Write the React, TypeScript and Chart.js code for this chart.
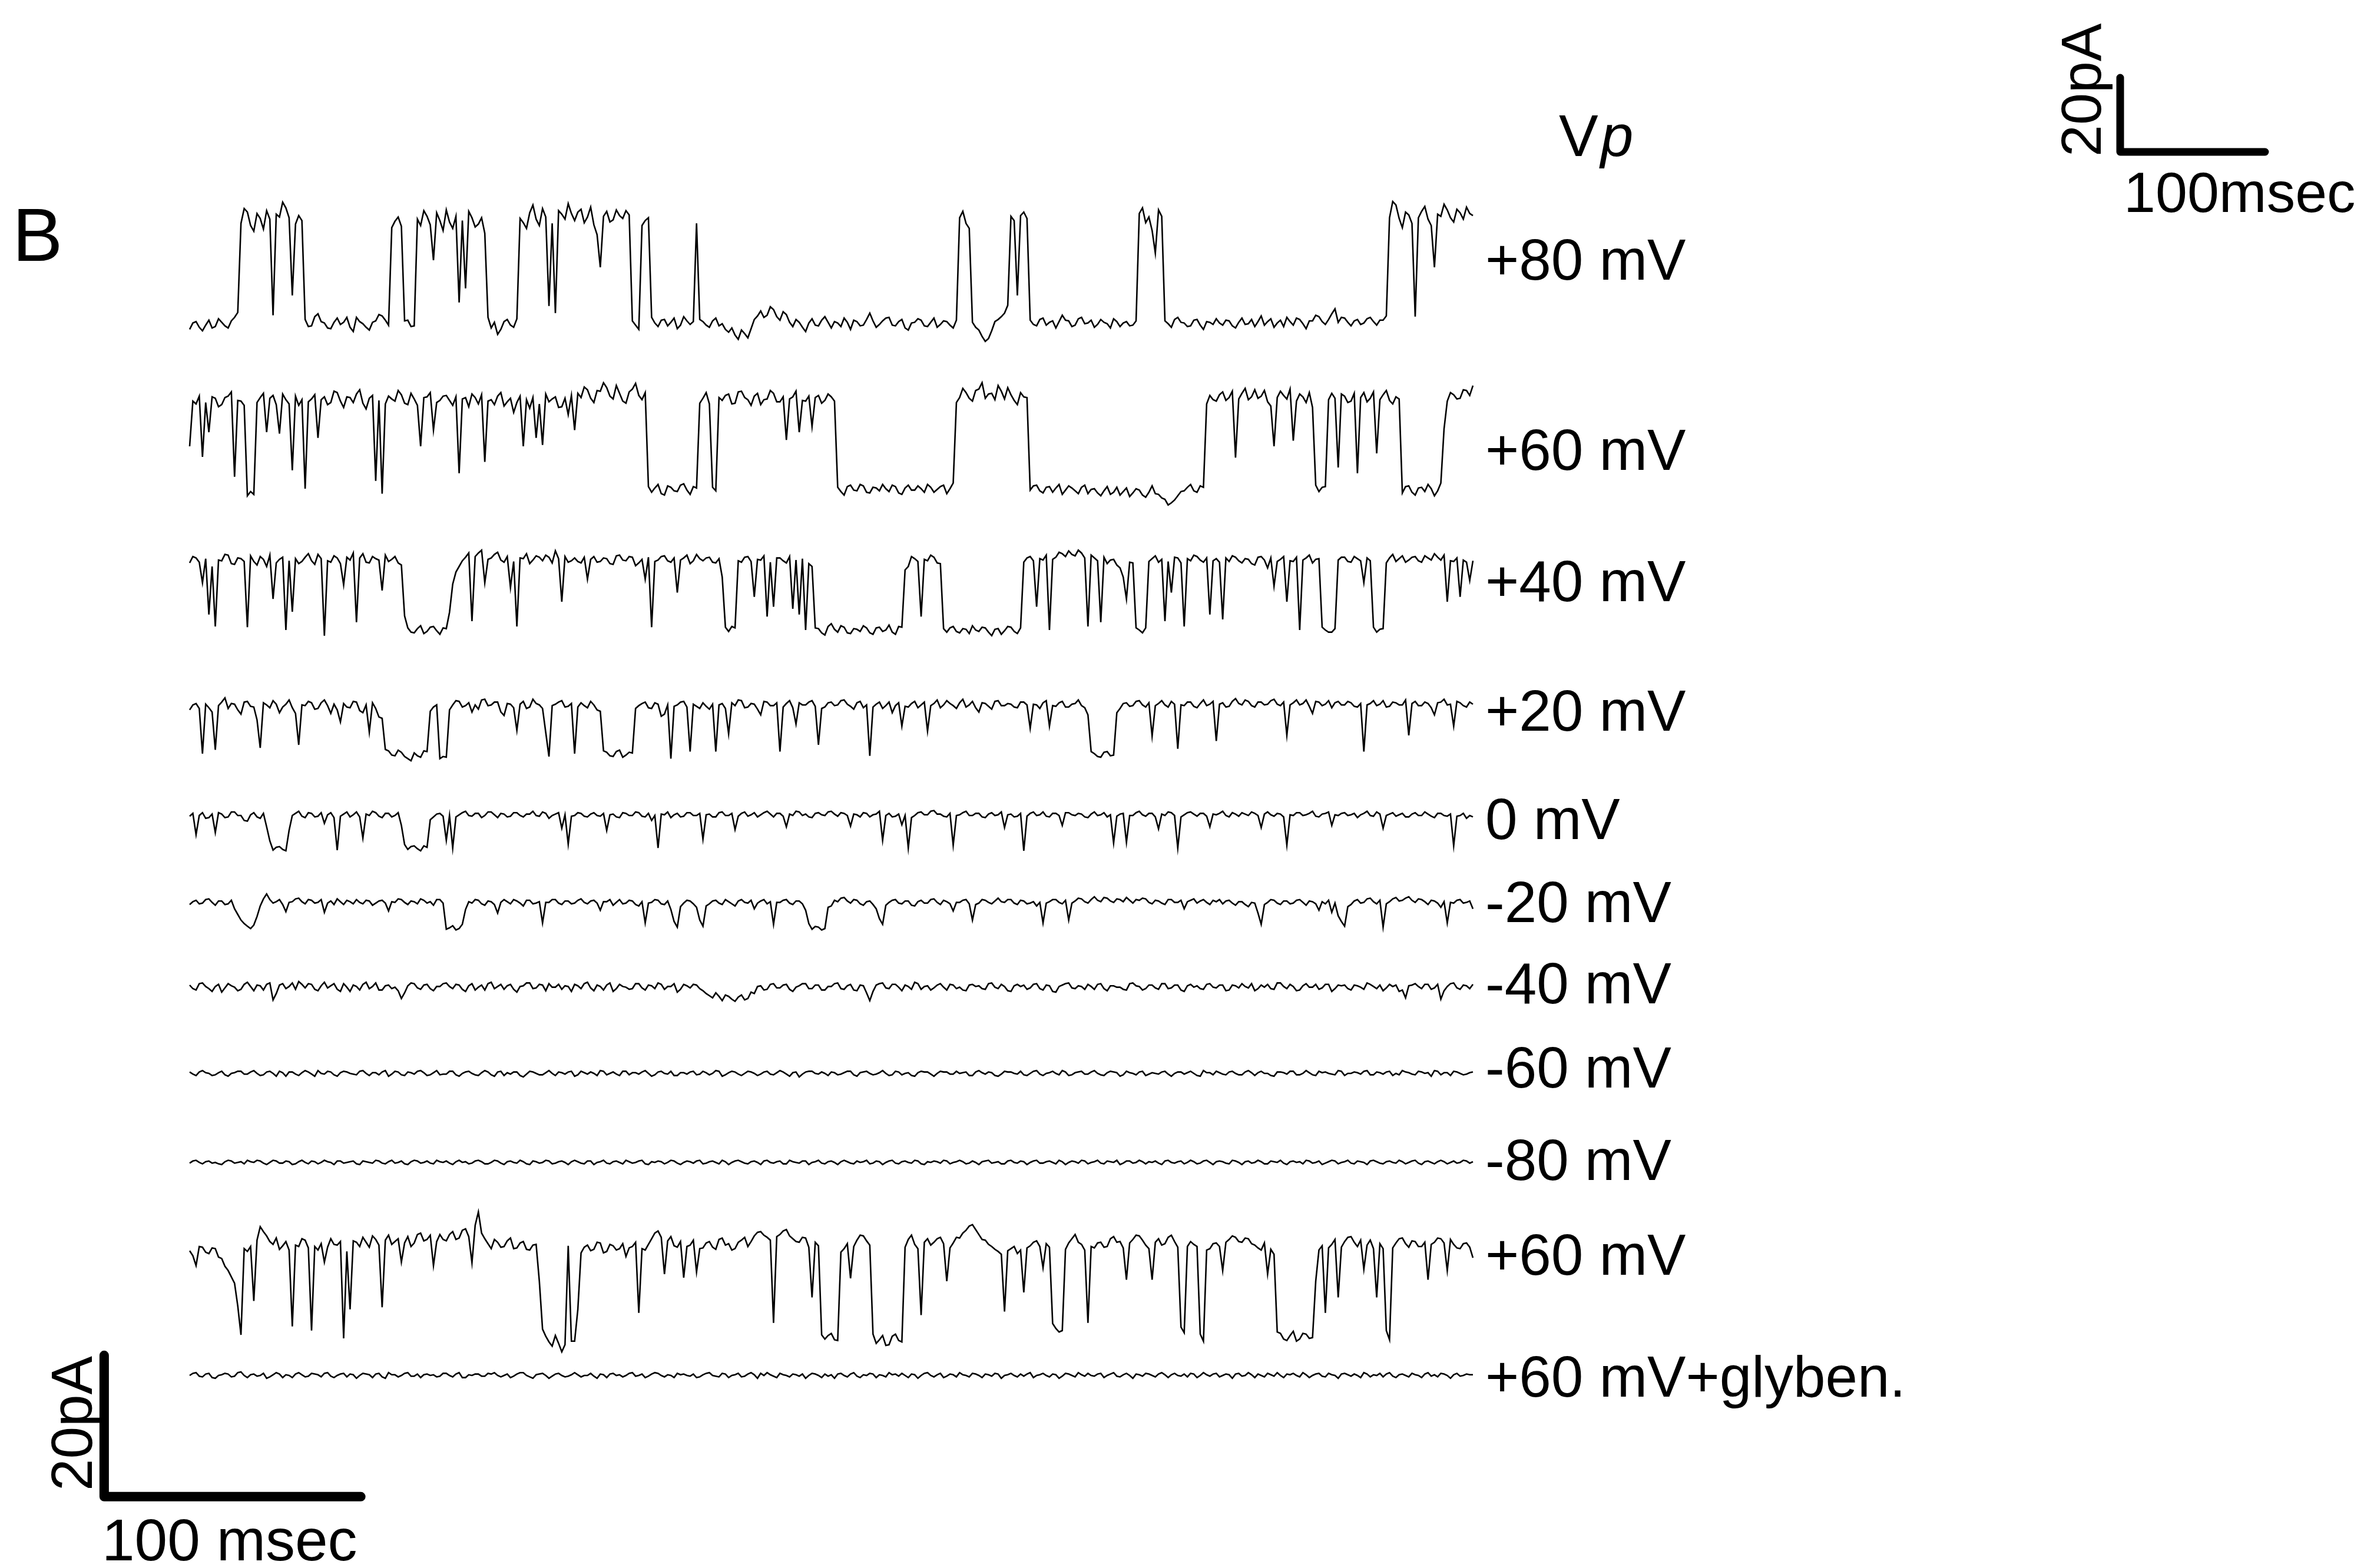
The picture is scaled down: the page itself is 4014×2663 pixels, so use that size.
import React, { useEffect, useRef } from "react";
import { Chart, registerables } from "chart.js";

Chart.register(...registerables);

const sampleIntervalMs = 1.25;

const traceLabels = [
  "+80 mV", "+60 mV", "+40 mV", "+20 mV", "0 mV", "-20 mV",
  "-40 mV", "-60 mV", "-80 mV", "+60 mV", "+60 mV+glyben.",
];

// closed-level position of each trace on the (stacked) current axis, pA
const traceBaselines = [176.1, 152.75, 132.75, 115.25, 101.9, 90.7, 82.2, 70.0, 57.4, 32.6, 27.25];

// current deflection (pA)
const trace80 = [
  -0.8, 0.1, 0.3, -0.5, -1.0, -0.2, 0.5, -0.6, -0.4, 0.7, 0.2, -0.3, -0.6, 0.4, 0.9, 1.6, 14.2, 16.3, 15.8, 13.9, 13.1, 15.6, 14.9, 13.4, 16.0, 14.8, 1.2, 15.5, 15.1, 17.2, 16.4, 15.0, 4.0, 14.1, 15.3, 14.6, 0.6, -0.4, -0.3, 1.0,
  1.4, 0.3, 0.1, -0.6, -0.7, 0.2, 0.8, -0.1, 0.2, 0.9, -0.5, -1.1, 0.9, 0.3, 0.0, -0.5, -0.9, 0.2, 0.4, 1.3, 1.1, 0.5, -0.2, 13.6, 14.5, 15.1, 13.8, 0.4, 0.5, -0.4, -0.3, 14.8, 13.9, 16.0, 15.2, 14.0, 9.0, 15.7, 14.6, 13.2,
  16.1, 14.4, 13.5, 15.2, 3.0, 14.6, 5.0, 15.9, 15.0, 13.7, 14.1, 15.0, 12.8, 0.9, -0.6, 0.2, -1.5, -0.8, 0.3, 0.6, -0.2, -0.5, 0.7, 14.9, 14.3, 13.5, 15.7, 16.8, 14.8, 13.9, 16.3, 15.1, 2.5, 14.2, 1.5, 16.0, 15.5, 14.8, 17.0, 15.6,
  14.6, 15.8, 16.2, 14.3, 15.1, 16.5, 14.0, 12.6, 8.0, 15.2, 15.9, 14.4, 14.7, 16.1, 15.3, 14.9, 16.0, 15.4, 0.4, -0.2, -0.8, 13.9, 14.6, 15.0, 0.9, 0.1, -0.4, 0.5, 0.6, -0.3, 0.2, 0.8, -0.7, -0.2, 1.0, 0.4, -0.1, 0.3, 14.2, 0.6,
  0.3, -0.2, -0.5, 0.4, 0.8, -0.3, 0.0, -0.8, -1.2, -0.6, -1.6, -2.2, -0.9, -1.4, -2.0, -0.7, 0.6, 1.1, 1.8, 0.9, 1.2, 2.4, 2.0, 1.0, 0.5, 1.7, 1.3, 0.2, -0.4, 0.6, 0.2, -0.5, -1.1, 0.1, 0.7, -0.2, -0.3, 0.5, 1.0, 0.2,
  -0.6, 0.3, 0.1, -0.4, 0.8, 0.2, -0.8, 0.5, 0.3, -0.3, -0.2, 0.6, 1.5, 0.4, -0.5, -0.1, 0.4, 0.8, 0.9, -0.2, -0.3, 0.3, 0.6, -0.6, -0.9, 0.1, 0.2, 0.7, 0.5, -0.3, -0.4, 0.2, 0.8, -0.5, -0.1, 0.4, 0.3, -0.2, -0.6, 0.5,
  15.0, 15.9, 14.2, 13.5, 0.2, -0.5, -0.9, -1.8, -2.5, -2.1, -1.0, 0.3, 0.6, 1.0, 1.5, 2.6, 15.2, 14.6, 4.0, 15.3, 15.8, 14.9, 0.5, -0.1, -0.3, 0.6, 0.8, -0.2, 0.2, 0.4, -0.6, 0.3, 1.2, 0.5, 0.4, -0.4, -0.2, 0.7, 0.9, 0.0,
  0.1, 0.5, -0.5, -0.1, 0.6, 0.2, 0.0, -0.6, 0.7, 0.3, -0.4, 0.1, 0.3, -0.3, -0.2, 0.4, 15.6, 16.4, 14.3, 15.1, 13.2, 10.0, 16.1, 15.2, 0.4, 0.0, -0.5, 0.6, 0.9, 0.2, 0.1, -0.4, -0.3, 0.5, 0.6, -0.2, -0.8, 0.3, 0.2, -0.1,
  0.7, 0.1, -0.2, 0.5, 0.4, -0.3, -0.6, 0.2, 0.8, -0.1, 0.0, 0.6, -0.4, 0.3, 1.1, -0.2, 0.3, 0.7, -0.5, 0.1, 0.5, -0.4, 0.9, 0.3, -0.2, 0.8, 0.6, 0.0, -0.7, 0.4, 0.4, 1.2, 1.0, 0.3, -0.1, 0.6, 1.4, 2.1, 0.2, 0.9,
  0.8, 0.2, -0.3, 0.4, 0.6, -0.1, 0.1, 0.7, 0.9, 0.3, -0.2, 0.5, 0.5, 1.1, 15.0, 17.3, 16.8, 14.9, 13.6, 15.8, 15.4, 14.2, 1.0, 15.0, 15.9, 16.6, 14.8, 13.9, 8.0, 15.5, 15.2, 16.9, 16.1, 15.0, 14.4, 16.2, 15.7, 14.8, 16.5, 15.6,
  15.3,
];

const trace60 = [
  6.0, 12.4, 12.0, 13.1, 4.5, 12.2, 8.0, 13.0, 12.8, 11.6, 11.9, 12.9, 13.1, 13.7, 1.7, 12.5, 12.4, 11.8, -1.0, -0.4, -0.8, 12.2, 12.9, 13.5, 8.0, 12.8, 13.2, 11.9, 7.8, 13.4, 12.6, 12.0, 2.6, 13.1, 11.8, 12.6, 0.0, 12.3, 12.7, 13.3,
  7.2, 12.6, 13.0, 11.9, 12.2, 13.8, 13.6, 12.4, 11.5, 13.0, 12.9, 12.2, 13.4, 14.0, 12.1, 11.3, 12.8, 13.2, 1.1, 12.5, -0.7, 12.0, 13.1, 12.7, 12.4, 13.9, 13.3, 12.1, 11.9, 13.5, 12.7, 11.8, 6.0, 12.9, 13.0, 13.6, 8.3, 12.2, 12.5, 13.1,
  13.2, 12.5, 11.8, 13.0, 2.2, 12.7, 12.9, 11.6, 13.4, 12.9, 12.0, 13.3, 3.8, 12.4, 12.6, 11.9, 13.1, 13.6, 11.7, 12.3, 12.8, 10.8, 12.2, 13.1, 6.0, 12.6, 11.4, 12.9, 7.2, 12.0, 6.2, 13.4, 12.3, 12.7, 13.0, 11.5, 11.6, 12.8, 10.5, 13.2,
  8.3, 13.5, 12.9, 14.4, 14.0, 12.8, 12.2, 13.9, 13.8, 15.0, 14.3, 13.1, 12.7, 14.6, 13.5, 12.4, 12.1, 13.7, 14.1, 14.9, 13.2, 12.6, 13.6, 0.3, -0.5, 0.1, 0.6, -0.7, -0.9, 0.4, 0.2, -0.3, -0.4, 0.5, 0.7, -0.2, -0.8, 0.3, 0.1, 12.1,
  12.8, 13.6, 12.0, 0.2, -0.3, 12.9, 12.5, 13.2, 13.4, 12.0, 12.1, 13.7, 13.8, 12.9, 12.6, 11.8, 13.1, 13.5, 11.9, 12.6, 12.7, 13.9, 13.5, 12.3, 12.3, 13.0, 6.9, 12.7, 13.0, 13.8, 8.0, 12.5, 12.4, 13.1, 8.8, 12.9, 13.2, 12.1, 12.5, 13.4,
  13.0, 12.4, 0.2, -0.4, -0.9, 0.3, 0.5, -0.2, -0.3, 0.6, 0.4, -0.5, -0.6, 0.2, 0.1, -0.3, 0.6, 0.0, -0.4, 0.5, 0.3, -0.6, -0.8, 0.1, 0.5, -0.2, -0.2, 0.4, 0.0, -0.5, 0.6, 0.2, -0.5, -0.1, 0.3, 0.5, -0.7, 0.0, 0.8, 12.2,
  12.9, 14.2, 13.6, 12.8, 12.4, 13.9, 14.1, 15.0, 12.8, 13.4, 13.5, 12.6, 14.6, 13.8, 12.7, 14.3, 13.3, 12.5, 11.9, 13.6, 13.0, 12.9, -0.2, 0.4, 0.5, -0.3, -0.6, 0.2, 0.3, -0.5, 0.1, 0.6, -0.8, -0.2, 0.4, 0.1, -0.3, -0.7, 0.2, 0.5,
  -0.7, -0.1, 0.0, -0.6, -1.0, -0.3, 0.3, -0.8, -0.5, 0.2, -0.9, -0.4, 0.1, -1.1, -0.6, 0.0, -0.2, -0.9, -1.2, -0.5, 0.4, -0.7, -0.8, -1.3, -1.5, -2.3, -2.0, -1.6, -1.0, -0.4, -0.3, 0.2, 0.6, -0.3, -0.5, 0.4, 0.2, 12.0, 13.2, 12.6,
  12.4, 13.3, 13.7, 12.5, 12.9, 13.8, 4.4, 12.7, 13.5, 14.2, 12.6, 13.0, 14.0, 12.8, 13.1, 13.9, 12.3, 11.7, 6.0, 12.9, 13.8, 13.2, 12.7, 14.1, 6.8, 12.4, 13.4, 13.0, 12.2, 13.6, 11.5, 0.5, -0.4, 0.2, 0.3, 12.6, 13.5, 12.8, 3.0, 13.4,
  13.1, 12.2, 12.4, 13.5, 2.2, 12.9, 13.6, 12.3, 12.8, 13.7, 5.0, 12.6, 13.3, 13.9, 12.5, 12.0, 13.0, 12.7, -0.6, 0.3, 0.4, -0.5, -0.9, 0.1, 0.2, -0.4, 0.6, 0.0, -1.0, -0.3, 0.8, 8.5, 12.4, 13.6, 13.3, 12.7, 12.8, 14.0, 13.9, 13.2,
  14.6,
];

const trace40 = [
  9.5, 10.4, 10.2, 9.6, 6.7, 10.1, 2.2, 9.0, 0.5, 9.9, 9.8, 10.7, 10.6, 9.4, 9.3, 10.2, 10.1, 9.7, 0.4, 10.5, 9.7, 9.2, 10.4, 10.0, 9.0, 10.6, 4.4, 9.5, 10.0, 10.3, 0.0, 9.8, 2.6, 10.1, 9.4, 9.7, 10.3, 10.8, 9.8, 9.3,
  10.7, 10.1, -0.8, 9.8, 9.6, 10.5, 10.2, 9.4, 6.4, 10.3, 9.9, 10.9, 1.1, 10.2, 10.8, 9.6, 9.5, 10.4, 10.1, 9.9, 5.6, 10.6, 9.7, 10.0, 10.4, 9.5, 9.2, 2.0, 0.3, -0.3, -0.4, 0.2, 0.6, -0.5, -0.2, 0.4, 0.5, -0.1, -0.6, 0.3,
  0.2, 2.5, 6.5, 8.2, 9.0, 9.8, 10.3, 10.9, 1.25, 10.4, 10.9, 11.3, 6.7, 10.0, 10.2, 10.7, 11.0, 9.9, 9.6, 10.4, 6.0, 9.7, 0.5, 10.2, 10.1, 10.8, 9.4, 9.9, 10.5, 10.3, 9.8, 10.6, 10.3, 9.5, 11.2, 10.1, 4.0, 10.4, 9.6, 9.8,
  10.2, 9.7, 9.5, 10.3, 7.2, 10.0, 10.4, 9.6, 9.7, 10.2, 10.1, 9.4, 9.3, 10.5, 10.6, 9.9, 9.8, 10.4, 10.3, 9.1, 9.5, 10.0, 7.2, 10.3, 0.4, 9.7, 9.9, 10.4, 10.5, 9.8, 9.6, 10.2, 5.3, 9.9, 10.2, 10.6, 9.4, 9.8, 10.7, 10.1,
  9.8, 10.2, 10.3, 9.6, 9.5, 10.1, 7.5, 0.4, -0.2, 0.5, 0.3, 9.8, 9.6, 10.3, 10.4, 9.7, 4.7, 10.0, 9.9, 10.5, 1.9, 9.6, 3.3, 10.2, 10.2, 9.8, 9.5, 10.4, 3.0, 9.9, 2.2, 10.1, 0.0, 9.4, 9.0, 0.3, 0.2, -0.4, -0.7, 0.5,
  0.9, 0.1, -0.3, 0.6, 0.4, -0.4, -0.5, 0.2, 0.1, -0.2, 0.6, 0.3, -0.4, -0.6, 0.3, 0.4, -0.2, 0.0, 0.7, -0.3, -0.6, 0.5, 0.4, 8.5, 9.0, 10.4, 10.1, 9.7, 1.9, 10.0, 9.8, 10.6, 10.3, 9.5, 9.4, 0.2, -0.3, 0.3, 0.5, -0.2,
  -0.4, 0.2, 0.1, -0.5, 0.6, 0.0, -0.2, 0.4, 0.3, -0.3, -0.8, 0.1, 0.2, -0.6, -0.1, 0.5, 0.4, -0.2, -0.5, 0.3, 9.6, 10.2, 10.4, 9.8, 3.3, 10.1, 9.9, 10.6, 0.0, 10.0, 10.3, 11.0, 10.8, 10.4, 11.2, 10.7, 10.5, 11.3, 10.9, 10.2,
  0.5, 10.6, 10.2, 9.8, 1.1, 10.3, 9.4, 9.9, 10.0, 9.2, 8.8, 7.5, 4.4, 9.6, 9.5, 0.3, 0.0, -0.4, 0.3, 9.7, 10.1, 10.5, 9.6, 10.0, 1.25, 9.7, 5.3, 10.3, 10.2, 9.5, 0.5, 10.1, 9.8, 10.6, 10.4, 9.9, 9.6, 10.2, 2.2, 9.8,
  10.1, 9.6, 1.5, 10.2, 9.7, 10.5, 10.3, 9.8, 9.5, 10.1, 10.0, 9.4, 9.2, 10.3, 10.4, 9.9, 8.8, 10.2, 6.2, 9.7, 10.0, 10.4, 4.0, 9.8, 9.7, 10.3, 0.0, 9.9, 10.2, 10.6, 9.5, 10.0, 10.1, 0.4, 0.0, -0.3, -0.3, 0.2, 9.9, 10.3,
  10.3, 9.7, 9.6, 10.4, 10.1, 9.8, 6.7, 10.2, 9.8, 0.4, -0.3, 0.1, 0.2, 9.5, 10.2, 10.7, 9.7, 10.1, 10.5, 9.6, 9.9, 10.3, 10.4, 9.8, 9.6, 10.5, 10.2, 9.9, 10.8, 10.3, 9.9, 10.6, 4.0, 9.8, 9.7, 10.2, 4.7, 9.9, 9.6, 7.0,
  9.8,
];

const trace20 = [
  6.2, 6.9, 7.1, 6.4, 0.0, 7.0, 6.5, 5.9, 0.55, 6.8, 7.3, 7.9, 6.4, 7.1, 7.0, 6.2, 5.6, 7.3, 7.4, 6.7, 6.6, 4.8, 0.83, 7.2, 6.9, 6.5, 7.5, 7.0, 5.8, 6.6, 7.0, 7.6, 6.5, 5.7, 1.25, 6.9, 6.8, 7.4, 7.2, 6.3,
  6.4, 7.2, 7.6, 6.8, 5.7, 7.0, 6.2, 4.5, 7.1, 6.6, 6.5, 7.4, 7.3, 6.1, 5.8, 6.9, 3.05, 7.2, 6.4, 5.2, 5.0, 0.6, 0.4, -0.2, -0.3, 0.5, 0.2, -0.4, -0.7, -1.0, 0.1, -0.3, -0.5, 0.4, 0.3, 6.0, 6.6, 6.9, -0.7, -0.4,
  -0.5, 6.2, 6.9, 7.5, 7.4, 6.6, 6.8, 7.2, 5.9, 6.9, 6.3, 7.6, 7.7, 6.8, 6.9, 7.3, 7.3, 5.9, 5.4, 7.1, 7.0, 6.5, 3.3, 7.0, 7.4, 6.4, 6.6, 7.7, 7.1, 6.9, 6.4, 3.0, -0.4, 6.8, 7.0, 7.3, 7.5, 6.6, 6.7, 7.1,
  0.0, 6.6, 7.2, 6.8, 6.5, 7.4, 6.9, 6.2, 6.0, 0.4, 0.2, -0.3, -0.4, 0.3, 0.5, -0.5, -0.2, 0.2, 0.1, 6.4, 6.8, 7.1, 7.3, 6.5, 6.4, 7.2, 7.0, 5.3, 5.6, 6.9, -0.7, 6.7, 6.9, 7.3, 7.4, 6.6, 0.3, 7.0, 6.7, 6.4,
  7.2, 6.7, 6.3, 7.0, 0.3, 6.9, 7.1, 6.4, 2.8, 7.2, 6.8, 7.6, 7.5, 6.5, 6.6, 7.1, 7.0, 6.3, 5.5, 7.4, 7.3, 6.8, 6.8, 7.2, 0.3, 6.6, 7.1, 7.5, 6.5, 4.2, 7.2, 6.9, 6.9, 7.3, 7.5, 6.7, 1.25, 6.4, 6.6, 7.2,
  7.3, 6.8, 6.9, 7.5, 7.6, 7.0, 6.7, 6.3, 7.2, 7.4, 6.5, 6.9, -0.3, 6.6, 7.0, 7.3, 6.4, 6.8, 7.3, 5.8, 6.8, 7.2, 3.9, 6.7, 6.6, 7.1, 7.4, 6.5, 6.9, 7.3, 3.2, 6.8, 7.1, 7.6, 6.5, 6.9, 7.5, 7.1, 6.8, 6.4,
  7.2, 7.7, 6.6, 6.9, 7.4, 6.5, 5.9, 7.2, 7.1, 6.7, 6.3, 7.4, 7.5, 6.8, 6.8, 7.1, 7.0, 6.6, 6.5, 7.3, 7.3, 6.9, 3.6, 7.0, 6.9, 6.4, 7.2, 7.5, 3.9, 6.8, 6.7, 7.2, 7.4, 6.6, 6.6, 7.0, 7.1, 7.6, 6.8, 6.5,
  5.5, 0.3, 0.0, -0.4, -0.5, 0.2, 0.3, -0.3, -0.2, 5.8, 6.4, 7.1, 7.2, 6.7, 6.8, 7.4, 7.5, 6.9, 6.6, 7.2, 2.5, 6.8, 7.1, 7.5, 6.9, 6.6, 7.4, 7.0, 0.7, 6.9, 6.8, 7.3, 7.3, 6.7, 6.5, 7.1, 7.6, 6.8, 7.0, 7.4,
  1.8, 7.0, 7.2, 6.6, 6.7, 7.4, 7.8, 7.1, 6.9, 7.6, 7.4, 6.8, 6.6, 7.3, 7.3, 6.9, 7.0, 7.5, 7.7, 7.0, 6.8, 7.3, 2.6, 6.9, 7.2, 7.6, 6.9, 7.1, 7.6, 6.7, 5.7, 7.4, 7.3, 6.8, 7.0, 7.5, 6.5, 7.2, 7.4, 6.9,
  6.9, 7.4, 7.2, 6.7, 6.6, 7.1, 0.3, 6.9, 7.1, 7.5, 6.8, 7.0, 7.5, 6.6, 6.7, 7.3, 7.2, 6.9, 6.9, 7.6, 2.6, 7.1, 7.4, 6.8, 6.8, 7.3, 7.1, 6.5, 5.5, 7.2, 7.3, 7.7, 6.9, 7.0, 3.9, 7.4, 7.2, 6.8, 6.6, 7.3,
  7.0,
];

const trace0 = [
  4.5, 4.9, 1.9, 4.6, 5.0, 4.2, 4.3, 4.8, 2.2, 5.0, 4.8, 4.3, 4.4, 5.1, 5.1, 4.6, 4.6, 3.9, 3.8, 4.7, 5.0, 4.4, 4.2, 4.9, 3.0, 1.0, -0.3, 0.1, 0.2, -0.2, -0.4, 2.5, 4.6, 4.9, 5.2, 4.5, 4.3, 5.0, 4.9, 4.4,
  4.5, 5.0, 3.5, 4.7, 5.0, 4.3, -0.3, 4.5, 4.8, 5.1, 4.4, 4.7, 5.1, 4.4, 1.4, 4.8, 4.6, 5.2, 5.0, 4.5, 4.3, 4.9, 4.9, 4.4, 4.6, 5.0, 3.2, 0.5, -0.2, 0.2, 0.3, -0.1, -0.4, 0.3, 0.1, 4.0, 4.4, 4.8, 4.9, 4.5,
  1.1, 4.6, 0.0, 4.4, 4.7, 5.0, 5.2, 4.6, 4.5, 4.9, 4.9, 4.3, 4.6, 5.1, 5.1, 4.7, 4.3, 4.9, 4.8, 4.4, 4.5, 5.0, 5.0, 4.6, 4.4, 4.8, 4.8, 5.2, 4.6, 4.5, 5.1, 4.9, 4.2, 4.6, 4.8, 5.0, 2.8, 4.7, 0.55, 4.5,
  4.6, 5.0, 4.9, 4.5, 4.4, 4.8, 5.0, 4.6, 4.5, 4.9, 2.5, 4.7, 4.8, 4.4, 4.3, 5.0, 4.9, 4.6, 4.6, 5.1, 5.0, 4.5, 4.4, 4.9, 3.9, 4.6, 0.0, 4.8, 4.7, 5.1, 4.3, 4.7, 4.9, 4.4, 4.5, 5.0, 5.0, 4.6, 4.6, 4.9,
  1.25, 4.7, 4.8, 4.4, 4.4, 5.0, 5.1, 4.6, 4.6, 4.9, 2.6, 4.5, 4.9, 5.1, 4.5, 4.7, 5.0, 4.4, 4.7, 5.0, 5.2, 4.8, 4.4, 4.9, 4.9, 4.5, 3.0, 4.8, 4.6, 5.2, 5.1, 4.6, 4.8, 4.4, 4.3, 4.9, 5.0, 4.7, 4.6, 5.1,
  5.2, 4.8, 4.5, 5.0, 4.9, 4.6, 3.1, 4.8, 4.7, 4.4, 5.0, 4.9, 4.4, 4.7, 4.8, 5.2, 1.1, 4.6, 4.9, 4.4, 4.5, 4.8, 3.3, 4.6, 0.0, 4.3, 4.6, 5.0, 5.1, 4.7, 4.7, 5.2, 5.3, 4.8, 4.8, 4.5, 4.4, 4.9, 0.4, 4.6,
  4.7, 5.0, 5.2, 4.6, 4.6, 4.9, 4.9, 4.4, 4.3, 4.8, 5.0, 4.6, 4.7, 5.1, 2.9, 4.7, 4.8, 4.4, 4.5, 4.9, -0.4, 4.5, 4.9, 5.1, 4.6, 4.7, 5.1, 4.5, 4.4, 4.9, 4.9, 4.6, 3.2, 5.0, 5.0, 4.7, 4.6, 4.9, 4.8, 4.4,
  4.3, 4.8, 5.1, 4.6, 4.7, 5.0, 4.4, 4.7, 0.7, 4.5, 4.8, 4.9, 0.8, 4.6, 4.6, 5.0, 5.2, 4.7, 4.5, 4.9, 4.9, 4.4, 2.7, 4.8, 4.6, 5.1, 5.0, 4.6, 0.0, 4.4, 4.7, 5.0, 5.1, 4.8, 4.5, 4.9, 4.9, 4.5, 3.0, 4.8,
  4.7, 4.9, 5.2, 4.6, 4.4, 5.0, 4.8, 4.5, 5.0, 4.8, 4.6, 5.1, 4.9, 4.6, 2.9, 4.8, 5.1, 4.7, 4.5, 4.9, 4.8, 4.4, 0.4, 4.7, 4.6, 5.0, 5.0, 4.6, 4.7, 4.9, 5.2, 4.5, 4.4, 4.8, 4.9, 5.1, 3.2, 4.7, 4.6, 4.9,
  5.0, 4.6, 4.7, 4.9, 4.3, 4.7, 4.9, 5.2, 4.6, 4.5, 5.1, 4.8, 2.8, 4.6, 4.8, 5.0, 4.5, 4.7, 4.9, 4.4, 4.4, 4.8, 5.0, 4.6, 4.6, 5.1, 4.8, 4.5, 4.3, 4.9, 4.9, 4.6, 4.5, 4.8, 0.3, 4.5, 4.6, 4.9, 4.2, 4.6,
  4.4,
];

const traceNeg20 = [
  3.2, 3.6, 3.8, 3.3, 3.4, 3.9, 4.0, 3.5, 3.1, 3.7, 3.7, 3.2, 3.3, 3.8, 2.6, 1.8, 1.0, 0.5, 0.14, -0.2, 0.3, 1.5, 3.0, 4.0, 4.7, 3.9, 3.4, 3.6, 3.9, 3.2, 2.2, 3.5, 3.6, 4.0, 4.1, 3.6, 3.3, 3.9, 3.8, 3.4,
  3.5, 3.9, 2.1, 3.4, 3.7, 3.2, 4.0, 3.6, 3.2, 3.8, 3.6, 3.3, 3.9, 3.5, 3.3, 3.8, 3.7, 3.1, 3.4, 3.7, 3.8, 3.4, 2.3, 3.6, 3.5, 4.0, 3.9, 3.5, 3.2, 3.7, 3.6, 3.3, 4.0, 3.8, 3.4, 3.6, 3.1, 3.9, 3.9, 3.4,
  -0.3, -0.1, 0.2, -0.4, -0.2, 0.4, 2.5, 3.6, 3.4, 3.9, 3.8, 3.3, 3.1, 3.7, 3.6, 3.2, 2.0, 3.5, 3.9, 3.6, 3.3, 3.9, 3.7, 3.4, 3.0, 3.8, 3.8, 3.3, 3.4, 3.6, 0.6, 3.5, 3.5, 3.9, 3.9, 3.4, 3.2, 3.7, 3.7, 3.3,
  3.4, 3.8, 4.0, 3.5, 3.3, 3.7, 3.8, 3.4, 2.4, 3.6, 3.6, 3.9, 3.1, 3.5, 3.9, 3.3, 3.4, 3.8, 3.7, 3.2, 3.0, 3.6, 0.6, 3.4, 3.5, 3.9, 3.8, 3.3, 3.2, 3.7, 2.5, 0.8, 0.0, 2.9, 3.4, 3.8, 3.7, 3.3, 2.8, 1.0,
  0.14, 3.0, 3.3, 3.7, 3.8, 3.4, 3.2, 3.9, 3.6, 3.3, 3.0, 3.7, 3.9, 3.5, 3.4, 3.8, 2.6, 3.4, 3.7, 3.9, 3.3, 3.6, 0.4, 3.5, 3.5, 3.8, 3.9, 3.4, 3.2, 3.7, 3.7, 3.3, 2.4, 0.5, -0.3, 0.1, 0.0, -0.4, -0.2, 2.8,
  3.0, 3.8, 3.6, 4.1, 4.2, 3.7, 3.4, 3.9, 3.8, 3.3, 3.1, 3.6, 3.7, 3.2, 2.6, 1.2, 0.4, 3.1, 3.5, 3.8, 3.9, 3.4, 3.3, 3.7, 3.7, 3.1, 3.0, 3.6, 3.8, 3.4, 3.4, 3.9, 4.0, 3.5, 3.2, 3.8, 3.6, 3.3, 2.3, 3.5,
  3.5, 3.8, 3.9, 3.3, 1.0, 3.2, 3.4, 3.9, 3.8, 3.5, 3.3, 3.7, 4.1, 3.6, 3.5, 3.9, 3.9, 3.4, 3.2, 3.8, 3.7, 3.3, 3.4, 3.6, 3.0, 3.5, 0.6, 3.4, 3.6, 3.9, 3.9, 3.5, 3.3, 3.8, 1.0, 3.4, 3.7, 4.1, 4.0, 3.6,
  3.4, 3.9, 4.3, 3.8, 3.6, 4.2, 4.1, 3.7, 3.5, 4.0, 3.9, 3.6, 4.2, 3.8, 3.4, 3.9, 3.8, 4.1, 4.0, 3.5, 3.3, 3.8, 3.7, 3.4, 3.2, 3.9, 3.9, 3.5, 3.5, 3.8, 2.6, 3.6, 3.8, 4.0, 3.4, 3.7, 3.9, 3.5, 3.2, 3.8,
  3.6, 3.9, 3.3, 3.7, 3.8, 3.4, 3.1, 3.6, 3.6, 3.2, 2.9, 3.5, 3.4, 2.0, 0.4, 3.2, 3.5, 3.9, 3.8, 3.4, 3.2, 3.7, 3.7, 3.3, 3.4, 3.8, 3.9, 3.5, 3.1, 3.7, 3.6, 3.3, 2.4, 3.6, 3.3, 3.8, 2.1, 3.4, 1.6, 0.8,
  0.14, 2.9, 3.2, 3.7, 3.9, 3.4, 3.5, 4.0, 4.1, 3.6, 3.3, 3.8, 0.0, 3.3, 3.6, 4.0, 4.2, 3.7, 3.8, 4.1, 4.3, 3.8, 3.5, 4.0, 3.9, 3.6, 3.2, 3.8, 3.7, 3.4, 2.8, 3.6, 0.6, 3.5, 3.4, 3.8, 3.9, 3.4, 3.5, 3.7,
  2.6,
];

const traceNeg40 = [
  0.3, -0.2, -0.4, 0.5, 0.6, 0.1, -0.2, -0.6, 0.1, 0.4, -0.7, -0.1, 0.5, 0.2, 0.0, -0.5, -0.3, 0.4, 0.7, 0.1,
  -0.5, 0.3, 0.2, -0.4, 0.4, 0.6, -1.8, -0.9, 0.3, 0.5, -0.2, 0.1, 0.6, -0.3, 0.8, 0.4, -0.1, 0.5, 0.4, -0.3,
  -0.5, 0.2, 0.7, -0.1, 0.2, 0.5, -0.3, -0.6, 0.5, 0.0, -0.6, 0.3, 0.1, -0.4, 0.4, 0.7, -0.2, 0.1, 0.6, -0.4,
  -0.4, 0.2, 0.3, -0.2, 0.0, -0.5, -1.6, -0.8, 0.2, 0.6, 0.5, -0.1, -0.3, 0.3, 0.4, -0.2, -0.5, 0.1, 0.1, 0.5,
  0.6, 0.1, -0.2, 0.4, 0.3, -0.3, -0.6, 0.2, 0.5, -0.4, 0.0, 0.3, -0.4, 0.5, 0.7, -0.2, 0.1, 0.4, -0.3, 0.2,
  0.4, -0.3, -0.7, 0.1, 0.2, 0.6, 0.6, -0.2, -0.1, 0.4, 0.3, -0.5, 0.5, 0.0, 0.0, 0.4, -0.3, 0.2, 0.1, -0.6,
  0.4, 0.2, -0.2, 0.5, 0.7, -0.1, -0.5, 0.3, 0.1, -0.4, 0.3, 0.6, -0.6, -0.2, 0.4, 0.1, 0.0, -0.3, -0.2, 0.5,
  0.5, -0.1, -0.4, 0.3, 0.2, -0.2, 0.6, 0.4, -0.3, 0.1, 0.1, 0.5, -0.7, -0.3, 0.4, 0.2, -0.1, 0.4, 0.3, -0.2,
  -0.5, -0.9, -1.2, -1.5, -0.8, -1.3, -1.9, -1.1, -1.3, -1.7, -2.0, -1.4, -1.1, -1.8, -1.6, -0.7, -0.9, 0.1, 0.2, -0.4,
  -0.3, 0.4, 0.5, -0.1, -0.1, 0.3, 0.4, -0.3, -0.6, 0.0, 0.2, 0.5, 0.5, -0.2, -0.2, 0.3, 0.3, -0.4, -0.4, 0.1,
  0.1, 0.5, 0.6, -0.2, -0.3, 0.2, 0.4, -0.4, -0.5, 0.3, 0.2, -0.8, -1.9, -0.6, 0.3, 0.5, 0.6, -0.1, -0.2, 0.4,
  0.4, 0.0, -0.5, 0.3, 0.1, -0.3, 0.7, 0.5, -0.3, 0.1, 0.2, -0.4, -0.1, 0.3, 0.5, 0.0, -0.4, 0.4, 0.3, -0.2,
  0.0, -0.4, -0.5, 0.3, 0.4, 0.1, 0.2, -0.2, -0.3, 0.5, 0.6, 0.0, -0.2, 0.4, 0.1, -0.5, -0.6, 0.2, 0.4, 0.1,
  0.3, -0.3, -0.1, 0.4, 0.5, -0.2, -0.4, 0.3, 0.2, -0.6, -0.7, 0.1, 0.3, 0.5, 0.6, -0.1, -0.2, 0.2, 0.1, -0.3,
  0.4, 0.1, -0.3, 0.4, 0.5, -0.2, -0.5, 0.2, 0.2, 0.0, 0.0, -0.3, -0.4, 0.5, 0.6, 0.2, 0.1, -0.4, -0.2, 0.3,
  0.3, -0.1, -0.3, 0.5, 0.5, -0.2, -0.1, 0.3, 0.3, -0.4, -0.6, 0.2, 0.4, 0.0, 0.2, -0.2, -0.3, 0.4, 0.5, 0.0,
  -0.1, 0.3, 0.3, -0.5, -0.4, 0.3, 0.2, -0.1, 0.5, 0.1, -0.1, 0.5, -0.5, -0.2, 0.3, 0.0, 0.4, -0.2, -0.3, 0.6,
  0.6, 0.1, -0.2, 0.4, 0.1, -0.5, -0.4, 0.2, 0.5, 0.0, 0.0, 0.4, -0.3, -0.1, 0.4, 0.4, -0.6, -0.2, 0.3, 0.2,
  0.3, -0.2, -0.4, 0.3, 0.2, 0.0, -0.3, 0.6, 0.4, 0.1, -0.2, 0.3, -0.5, -0.1, 0.4, 0.1, 0.3, -0.6, -0.4, -1.5,
  0.2, 0.3, 0.5, 0.1, -0.2, 0.4, 0.4, -0.3, -0.1, 0.4, -1.7, -0.5, 0.1, 0.5, 0.6, -0.1, -0.3, 0.3, 0.2, -0.2,
  0.4,
];

const traceNeg60 = [
  0.2, -0.1, -0.3, 0.2, 0.4, 0.1, 0.0, -0.3, -0.2, 0.1, 0.3, -0.2, -0.4, 0.0, 0.1, 0.3, 0.3, -0.1, -0.1, 0.2,
  0.4, 0.0, -0.3, -0.2, 0.2, 0.3, 0.0, -0.4, 0.3, 0.1, -0.4, 0.2, 0.2, -0.1, -0.3, 0.1, 0.4, 0.2, -0.1, -0.4,
  0.4, 0.0, -0.1, 0.3, 0.2, -0.2, -0.4, 0.1, 0.3, 0.2, 0.0, -0.1, -0.2, 0.3, 0.4, 0.0, -0.3, 0.1, 0.1, -0.2,
  0.2, 0.4, -0.4, -0.1, 0.3, 0.2, -0.2, -0.3, 0.2, 0.1, -0.1, 0.3, 0.4, 0.1, -0.3, -0.2, 0.1, 0.4, -0.2, -0.1,
  -0.1, 0.3, 0.3, -0.2, -0.4, 0.0, 0.2, 0.3, 0.0, -0.2, -0.3, 0.1, 0.4, 0.2, -0.2, -0.4, 0.2, 0.3, -0.3, 0.1,
  -0.1, 0.2, 0.2, -0.3, -0.5, -0.1, 0.3, 0.2, 0.0, -0.2, -0.2, 0.1, 0.4, 0.0, -0.3, 0.2, 0.1, -0.1, 0.2, 0.3,
  -0.4, -0.2, 0.3, 0.1, -0.1, 0.2, 0.0, -0.3, 0.4, 0.3, -0.2, 0.0, 0.2, -0.1, -0.3, 0.3, 0.3, -0.2, 0.1, 0.1,
  -0.1, 0.2, 0.4, 0.0, -0.4, -0.2, 0.2, 0.3, 0.0, -0.1, 0.3, -0.3, -0.3, 0.1, 0.1, -0.1, 0.2, 0.3, -0.2, -0.1,
  0.3, 0.1, -0.2, 0.0, 0.4, 0.3, -0.4, -0.2, 0.1, 0.3, 0.2, -0.1, -0.3, 0.0, 0.3, 0.2, 0.0, -0.3, -0.1, 0.2,
  0.3, -0.1, -0.2, 0.1, 0.4, 0.2, -0.1, -0.4, 0.1, 0.2, -0.5, -0.1, 0.2, 0.3, 0.3, 0.0, -0.1, 0.2, 0.0, -0.3,
  0.2, 0.1, -0.2, -0.1, 0.1, 0.3, 0.3, -0.2, -0.4, 0.1, 0.2, 0.3, 0.0, -0.2, -0.1, 0.1, 0.4, 0.0, -0.3, -0.2,
  0.3, 0.2, -0.2, 0.0, 0.1, -0.3, -0.4, 0.1, 0.3, 0.2, 0.2, -0.1, -0.4, 0.0, 0.3, 0.2, 0.2, -0.1, -0.1, 0.3,
  0.0, 0.1, 0.2, -0.3, -0.3, 0.2, 0.4, 0.1, -0.1, 0.2, 0.1, -0.3, -0.4, -0.1, 0.3, 0.2, 0.2, 0.0, -0.1, 0.3,
  -0.2, -0.3, 0.0, 0.3, 0.4, -0.1, -0.3, 0.0, 0.1, 0.3, 0.0, -0.2, 0.4, 0.2, -0.3, -0.2, 0.1, 0.2, 0.3, -0.1,
  -0.1, 0.2, 0.4, 0.0, -0.2, -0.3, 0.1, 0.3, 0.2, 0.1, -0.4, -0.2, 0.3, 0.1, 0.0, -0.2, 0.2, 0.3, -0.3, -0.1,
  0.1, 0.0, -0.1, 0.2, 0.3, -0.1, -0.4, 0.0, 0.2, 0.2, -0.1, 0.1, 0.3, 0.0, -0.3, -0.4, 0.4, 0.1, 0.1, -0.2,
  0.3, 0.1, -0.1, -0.2, 0.2, 0.3, 0.0, -0.2, -0.2, 0.2, 0.4, 0.1, -0.3, 0.1, 0.3, 0.0, 0.0, -0.3, -0.4, 0.2,
  0.2, 0.1, -0.1, 0.3, 0.3, -0.2, -0.2, 0.0, 0.4, 0.1, -0.2, -0.3, 0.3, 0.1, 0.2, 0.0, -0.1, -0.2, 0.4, 0.3,
  -0.3, 0.0, 0.0, 0.2, 0.1, -0.1, 0.3, 0.4, -0.2, -0.2, 0.2, 0.1, -0.1, 0.2, 0.3, -0.3, 0.0, -0.2, 0.4, 0.2,
  0.1, -0.1, -0.2, 0.3, 0.2, 0.0, 0.1, -0.4, 0.4, 0.3, -0.2, 0.1, 0.1, -0.3, 0.3, 0.2, 0.0, -0.2, -0.1, 0.1,
  0.2,
];

const traceNeg80 = [
  -0.1, 0.2, 0.3, 0.0, -0.2, 0.1, 0.2, -0.1, 0.0, -0.2, -0.3, 0.1, 0.3, 0.2, -0.1, 0.0, 0.1, -0.2, 0.3, 0.1,
  0.0, 0.3, 0.2, -0.1, -0.3, 0.0, 0.3, 0.2, -0.1, -0.1, 0.2, 0.1, -0.3, -0.2, 0.1, 0.3, 0.0, -0.2, 0.2, 0.1,
  -0.2, 0.0, 0.3, 0.1, 0.0, -0.3, 0.2, 0.2, -0.1, 0.0, 0.1, 0.2, -0.2, -0.3, 0.2, 0.1, 0.0, -0.1, 0.3, 0.2,
  -0.1, -0.2, 0.1, 0.3, -0.1, 0.0, 0.2, -0.2, -0.3, 0.1, 0.3, 0.2, -0.1, 0.0, 0.2, -0.1, -0.2, 0.3, 0.1, 0.0,
  0.2, -0.1, -0.3, 0.1, 0.3, 0.0, 0.1, -0.2, -0.1, 0.2, 0.3, 0.1, -0.2, -0.2, 0.0, 0.3, 0.2, -0.1, -0.3, 0.1,
  0.2, 0.0, -0.1, 0.3, 0.1, -0.2, -0.3, 0.2, 0.1, -0.1, 0.0, 0.3, 0.2, -0.2, -0.1, 0.1, 0.2, 0.0, -0.3, 0.1,
  0.3, 0.1, -0.1, -0.2, 0.2, 0.2, -0.3, 0.0, 0.1, 0.3, -0.1, -0.2, 0.1, 0.2, 0.0, -0.2, 0.3, 0.1, -0.1, 0.0,
  0.2, 0.3, -0.2, -0.3, 0.1, 0.0, 0.2, 0.1, -0.2, 0.0, 0.3, 0.2, -0.1, -0.3, 0.0, 0.2, 0.1, -0.1, 0.2, 0.3,
  -0.2, -0.1, 0.1, 0.2, 0.0, -0.2, 0.3, 0.1, -0.3, 0.0, 0.2, 0.3, 0.1, -0.1, -0.2, 0.1, 0.2, 0.0, -0.3, 0.2,
  0.3, 0.0, -0.1, 0.1, 0.2, -0.2, -0.2, 0.3, 0.1, 0.0, -0.1, 0.2, 0.2, -0.3, 0.0, 0.1, 0.3, -0.1, -0.2, 0.1,
  0.2, 0.0, -0.3, 0.1, 0.3, 0.1, -0.1, -0.2, 0.2, 0.0, 0.1, 0.3, -0.2, -0.1, 0.2, 0.1, -0.3, 0.0, 0.2, 0.3,
  -0.1, -0.2, 0.1, 0.2, 0.0, -0.1, 0.3, 0.2, -0.2, -0.3, 0.1, 0.0, 0.2, 0.1, -0.1, 0.3, 0.2, -0.2, 0.0, 0.1,
  0.3, 0.1, -0.2, -0.1, 0.2, 0.0, -0.3, 0.1, 0.2, 0.3, -0.1, 0.0, 0.1, -0.2, -0.2, 0.2, 0.3, 0.0, -0.1, 0.2,
  0.1, -0.3, 0.0, 0.2, 0.3, -0.1, -0.1, 0.1, 0.2, 0.0, -0.2, 0.3, 0.1, -0.3, 0.0, 0.2, 0.1, -0.1, 0.3, 0.2,
  -0.2, 0.0, 0.1, 0.3, -0.1, -0.2, 0.2, 0.1, 0.0, 0.3, -0.3, -0.1, 0.2, 0.2, -0.1, 0.0, 0.3, 0.1, -0.2, 0.1,
  0.0, 0.2, -0.1, -0.3, 0.2, 0.3, 0.0, -0.1, 0.1, 0.2, -0.2, 0.0, 0.3, 0.1, -0.2, -0.1, 0.2, 0.3, 0.0, -0.3,
  0.1, 0.2, 0.1, -0.1, -0.2, 0.3, 0.2, 0.0, -0.3, 0.1, 0.2, -0.1, 0.0, 0.3, 0.1, -0.2, -0.2, 0.2, 0.1, 0.0,
  0.3, -0.1, -0.3, 0.1, 0.2, 0.0, 0.1, -0.2, 0.3, 0.2, -0.1, 0.0, 0.2, -0.3, -0.1, 0.1, 0.3, 0.2, -0.2, 0.0,
  0.1, 0.3, -0.1, -0.2, 0.2, 0.1, 0.0, -0.3, 0.2, 0.3, 0.1, -0.1, -0.2, 0.1, 0.2, 0.0, -0.1, 0.3, 0.1, -0.2,
  0.0, 0.2, 0.3, -0.1, -0.3, 0.1, 0.2, 0.0, -0.2, 0.1, 0.3, 0.1, -0.2, 0.0, 0.2, -0.1, 0.0, 0.3, 0.2, -0.1,
  0.1,
];

const trace60b = [
  12.3, 11.6, 10.2, 12.9, 12.8, 12.1, 11.9, 12.7, 12.6, 11.4, 11.2, 10.1, 9.5, 8.6, 7.7, 4.5, 0.4, 12.6, 12.2, 12.9, 5.2, 13.8, 15.7, 15.0, 14.4, 13.6, 13.2, 14.1, 12.5, 13.0, 13.6, 12.4, 1.6, 13.1, 12.9, 14.0, 13.8, 12.7, 1.0, 12.9,
  12.4, 13.3, 10.7, 12.8, 14.0, 13.2, 13.1, 13.6, -0.1, 12.2, 4.0, 13.7, 13.5, 12.9, 14.2, 13.5, 12.8, 14.4, 13.9, 13.1, 4.3, 13.8, 14.5, 13.2, 13.6, 14.0, 10.7, 13.4, 14.3, 12.9, 13.4, 14.6, 14.8, 13.7, 13.9, 14.5, 10.2, 13.6, 14.6, 13.9,
  13.7, 14.6, 15.0, 13.9, 14.1, 15.2, 15.4, 14.3, 10.6, 15.9, 17.8, 14.8, 14.0, 13.3, 12.6, 13.9, 13.5, 12.8, 12.9, 13.7, 14.1, 12.6, 12.7, 13.4, 13.6, 12.5, 12.4, 13.1, 13.2, 8.0, 1.2, 0.2, -0.6, -1.2, 0.3, -0.8, -2.0, -1.0, 13.0, -0.5,
  -0.5, 4.0, 12.0, 12.8, 13.1, 12.3, 12.5, 13.5, 13.4, 12.0, 12.2, 13.2, 13.0, 12.4, 12.6, 13.3, 11.5, 12.7, 12.9, 13.5, 3.5, 12.6, 12.4, 13.2, 14.0, 14.8, 15.1, 14.2, 9.0, 13.7, 14.3, 13.0, 12.8, 13.6, 8.5, 12.9, 13.1, 13.8, 9.3, 12.6,
  12.7, 13.4, 13.6, 12.8, 12.5, 13.9, 14.1, 13.1, 13.3, 12.4, 12.6, 13.5, 13.8, 14.2, 12.9, 13.6, 14.4, 14.9, 15.0, 14.5, 14.2, 13.8, 2.1, 14.3, 14.6, 15.1, 15.3, 14.4, 14.0, 13.6, 13.5, 14.2, 14.1, 12.8, 5.7, 13.5, 13.0, 0.4, -0.2, 0.3,
  0.6, -0.3, -0.4, 12.1, 12.6, 13.3, 8.4, 12.9, 13.8, 14.5, 14.4, 13.7, 13.1, 0.5, -0.8, -0.3, 0.3, -1.1, -1.0, 0.2, 0.5, -0.4, -0.6, 12.8, 13.9, 14.5, 13.2, 12.6, 3.2, 13.5, 14.0, 13.1, 13.5, 14.0, 14.2, 13.3, 8.0, 12.7, 13.4, 14.2,
  14.1, 14.8, 15.2, 15.8, 16.0, 15.3, 14.6, 13.9, 13.8, 13.2, 12.9, 12.5, 12.2, 11.8, 3.7, 12.3, 12.6, 12.9, 11.9, 12.4, 6.4, 12.7, 13.0, 13.5, 13.7, 12.9, 9.9, 13.3, 12.8, 2.0, 1.3, 0.8, 1.0, 12.5, 13.4, 14.0, 14.6, 13.5, 13.2, 12.4,
  2.1, 12.9, 12.7, 13.4, 13.5, 12.8, 12.9, 14.0, 14.3, 13.5, 13.6, 12.7, 8.2, 13.4, 13.9, 14.5, 14.4, 13.8, 13.1, 12.6, 8.2, 13.5, 14.0, 13.1, 13.3, 14.2, 14.5, 13.6, 12.8, 1.5, 0.7, 12.9, 13.6, 13.2, 12.9, 0.5, -0.5, 12.4, 12.6, 13.3,
  13.4, 12.9, 9.5, 13.5, 13.9, 14.4, 14.2, 13.6, 13.5, 14.1, 14.0, 13.3, 13.1, 12.7, 12.4, 13.4, 9.0, 12.5, 11.8, 0.8, 0.6, -0.2, -0.4, 0.3, 0.9, -0.5, -0.2, 0.6, 0.5, -0.1, 0.0, 8.0, 12.4, 13.0, 3.5, 12.7, 13.2, 13.9, 5.7, 12.8,
  13.6, 14.2, 14.3, 13.5, 12.9, 13.8, 9.7, 13.1, 13.8, 12.6, 5.7, 13.3, 12.6, 1.0, -0.3, 12.7, 13.4, 14.0, 14.1, 13.3, 12.8, 13.7, 13.6, 12.9, 12.9, 13.5, 8.2, 13.2, 13.5, 14.1, 14.0, 13.4, 9.5, 13.9, 13.2, 12.7, 12.6, 13.3, 13.4, 12.8,
  11.3,
];

const traceGlyben = [
  0.0, 0.3, 0.4, -0.1, -0.2, 0.2, 0.3, -0.3, -0.4, 0.0, 0.1, 0.3, 0.2, -0.2, -0.1, 0.4, 0.5, 0.0, -0.3, 0.1,
  0.2, -0.1, 0.0, 0.3, -0.4, -0.2, 0.1, 0.4, 0.2, -0.3, 0.1, 0.0, -0.3, 0.2, 0.4, 0.1, -0.2, -0.1, 0.3, 0.2,
  0.1, -0.2, 0.3, 0.4, -0.1, -0.3, 0.0, 0.2, 0.3, -0.2, 0.2, 0.1, -0.4, 0.0, 0.3, 0.2, 0.1, -0.3, 0.2, 0.3,
  -0.2, -0.4, 0.4, 0.1, 0.1, -0.2, 0.0, 0.3, 0.4, -0.1, -0.1, 0.2, -0.3, 0.1, 0.2, 0.0, 0.1, -0.2, -0.1, 0.3,
  0.3, 0.0, -0.2, 0.2, 0.4, -0.3, -0.3, 0.1, 0.0, 0.2, 0.2, -0.1, -0.1, 0.3, 0.2, 0.4, 0.0, -0.2, 0.0, 0.2,
  -0.3, -0.1, 0.2, 0.4, 0.4, 0.0, -0.2, -0.4, 0.1, 0.2, 0.3, 0.0, -0.4, -0.1, 0.2, 0.3, 0.0, -0.2, -0.1, 0.1,
  0.4, 0.1, -0.2, 0.0, 0.0, 0.3, -0.1, -0.4, 0.2, 0.1, -0.3, 0.2, 0.3, 0.0, 0.1, -0.2, 0.0, 0.3, 0.4, -0.1,
  0.0, 0.2, -0.3, -0.1, 0.2, 0.4, 0.3, 0.0, -0.2, 0.1, 0.0, -0.3, 0.3, 0.1, 0.2, 0.0, -0.1, 0.2, -0.3, -0.2,
  0.1, 0.3, 0.4, 0.0, -0.1, -0.2, 0.3, 0.2, -0.3, 0.0, 0.1, 0.3, -0.2, -0.1, 0.2, 0.4, 0.1, -0.4, 0.3, 0.0,
  0.4, 0.1, -0.1, -0.3, 0.3, 0.1, 0.0, -0.2, 0.2, 0.1, -0.1, 0.2, -0.4, 0.0, 0.3, 0.2, 0.0, -0.3, 0.2, -0.1,
  0.1, -0.4, 0.2, 0.3, 0.0, -0.2, 0.2, 0.4, -0.1, -0.3, 0.1, 0.0, 0.3, 0.2, -0.3, 0.1, 0.0, -0.2, 0.4, 0.1,
  0.2, -0.1, 0.3, 0.0, -0.3, 0.2, 0.1, -0.4, 0.0, 0.3, 0.4, 0.0, -0.2, 0.1, 0.3, -0.3, -0.1, 0.2, 0.1, -0.2,
  0.4, 0.1, 0.0, -0.2, 0.3, 0.2, 0.0, -0.3, 0.2, 0.1, -0.1, 0.3, 0.2, -0.4, 0.0, 0.1, 0.3, 0.0, -0.2, 0.2,
  -0.1, 0.2, 0.4, -0.3, 0.0, 0.1, 0.3, 0.0, -0.2, 0.2, 0.1, -0.4, -0.1, 0.3, 0.2, 0.0, -0.2, 0.4, 0.1, -0.1,
  0.3, 0.0, -0.1, 0.2, 0.3, -0.3, 0.0, 0.2, 0.4, -0.1, -0.2, 0.1, 0.3, 0.0, -0.4, 0.2, 0.1, -0.1, 0.3, 0.2,
  0.0, -0.2, 0.2, 0.4, 0.1, -0.3, 0.1, 0.3, 0.0, -0.1, 0.2, -0.2, 0.3, 0.2, -0.3, 0.0, 0.4, 0.1, -0.1, 0.2,
  0.3, -0.2, 0.0, 0.2, 0.1, -0.4, 0.2, 0.3, -0.1, 0.0, 0.4, 0.1, -0.3, 0.2, 0.0, -0.2, 0.3, 0.1, -0.1, 0.4,
  0.0, -0.3, 0.2, 0.1, 0.3, 0.0, -0.2, 0.4, 0.1, -0.3, 0.0, 0.2, 0.3, -0.1, -0.2, 0.3, 0.1, 0.0, -0.4, 0.2,
  0.3, 0.1, -0.1, 0.2, 0.0, -0.3, 0.4, 0.2, -0.2, 0.1, 0.0, 0.3, -0.2, 0.2, 0.4, -0.1, -0.3, 0.1, 0.2, 0.0,
  -0.2, 0.3, 0.1, 0.0, -0.3, 0.2, 0.4, -0.1, 0.1, -0.2, 0.3, 0.2, 0.0, -0.4, 0.1, 0.3, -0.1, 0.0, 0.2, 0.1,
  0.1,
];

const traces = [
  trace80, trace60, trace40, trace20, trace0, traceNeg20,
  traceNeg40, traceNeg60, traceNeg80, trace60b, traceGlyben,
];

// scale bar (data units): 20 pA / 100 ms
const scaleBarPa = 20;
const scaleBarMs = 100;

const FONT = '"Liberation Sans", Arial, Helvetica, sans-serif';
const W = 4014;
const H = 2663;
// layout (pixels)
const PX_PER_MS = 4.358;
const PX_PER_PA = 12;
const TRACE_LEFT = 322;
const labelCentersY = [440, 763, 986, 1206, 1390, 1531, 1669, 1812, 1969, 2130, 2337];

export default function App() {
  const ref = useRef<HTMLCanvasElement | null>(null);

  useEffect(() => {
    const canvas = ref.current;
    if (!canvas) return;
    const xMin = -TRACE_LEFT / PX_PER_MS;
    const xMax = xMin + W / PX_PER_MS;
    const yMax = H / PX_PER_PA;

    const datasets = traces.map((vals, k) => ({
      label: traceLabels[k],
      data: vals.map((v, i) => ({ x: i * sampleIntervalMs, y: traceBaselines[k] + v })),
      borderColor: "#000",
      borderWidth: 2.6,
      pointRadius: 0,
      tension: 0,
      fill: false,
      clip: false as any,
      borderJoinStyle: "miter" as const,
    }));

    const bg = {
      id: "bg",
      beforeDraw(chart: any) {
        const c = chart.ctx;
        c.save();
        c.fillStyle = "#fff";
        c.fillRect(0, 0, chart.width, chart.height);
        c.restore();
      },
    };

    const annot = {
      id: "annot",
      afterDraw(chart: any) {
        const c: CanvasRenderingContext2D = chart.ctx;
        const xs = chart.scales.x;
        const ys = chart.scales.y;
        c.save();
        c.fillStyle = "#000";
        c.strokeStyle = "#000";
        c.textBaseline = "alphabetic";
        c.textAlign = "left";

        // panel letter
        c.font = `128px ${FONT}`;
        c.fillText("B", 21, 443);

        // Vp header
        c.font = `100px ${FONT}`;
        c.fillText("V", 2647, 265);
        const wV = c.measureText("V").width;
        c.font = `italic 100px ${FONT}`;
        c.fillText("p", 2647 + wV + 4, 265);

        // trace labels
        c.font = `98px ${FONT}`;
        traceLabels.forEach((lab, k) => {
          c.fillText(lab, 2522, labelCentersY[k] + 35);
        });

        // top-right scale bar
        c.lineWidth = 13;
        c.lineCap = "round";
        c.lineJoin = "round";
        c.beginPath();
        c.moveTo(3600, 132);
        c.lineTo(3600, 258);
        c.lineTo(3846, 258);
        c.stroke();
        c.font = `97px ${FONT}`;
        c.save();
        c.translate(3567, 266);
        c.rotate(-Math.PI / 2);
        c.fillText("20pA", 0, 0);
        c.restore();
        c.fillText("100msec", 3606, 360);

        // bottom-left scale bar, in data units
        const t0 = -33.3;
        const y0 = 10.1;
        const bx0 = xs.getPixelForValue(t0);
        const bx1 = xs.getPixelForValue(t0 + scaleBarMs);
        const by0 = ys.getPixelForValue(y0);
        const by1 = ys.getPixelForValue(y0 + scaleBarPa);
        c.lineWidth = 16;
        c.beginPath();
        c.moveTo(bx0, by1);
        c.lineTo(bx0, by0);
        c.lineTo(bx1, by0);
        c.stroke();
        c.font = `98px ${FONT}`;
        c.save();
        c.translate(156, 2532);
        c.rotate(-Math.PI / 2);
        c.fillText("20pA", 0, 0);
        c.restore();
        c.font = `100px ${FONT}`;
        c.fillText("100 msec", 173, 2650);
        c.restore();
      },
    };

    const chart = new Chart(canvas, {
      type: "line",
      data: { datasets } as any,
      options: {
        animation: false,
        responsive: false,
        devicePixelRatio: 1,
        maintainAspectRatio: false,
        layout: { padding: 0 },
        parsing: false,
        normalized: true,
        events: [],
        plugins: {
          legend: { display: false },
          tooltip: { enabled: false },
          title: { display: false },
        },
        scales: {
          x: { type: "linear", min: xMin, max: xMax, display: false },
          y: { type: "linear", min: 0, max: yMax, display: false },
        },
      } as any,
      plugins: [bg, annot],
    });
    return () => chart.destroy();
  }, []);

  return (
    <div style={{ position: "absolute", left: 0, top: 0, width: W, height: H, background: "#fff" }}>
      <canvas ref={ref} width={W} height={H} style={{ display: "block", width: W, height: H }} />
    </div>
  );
}
